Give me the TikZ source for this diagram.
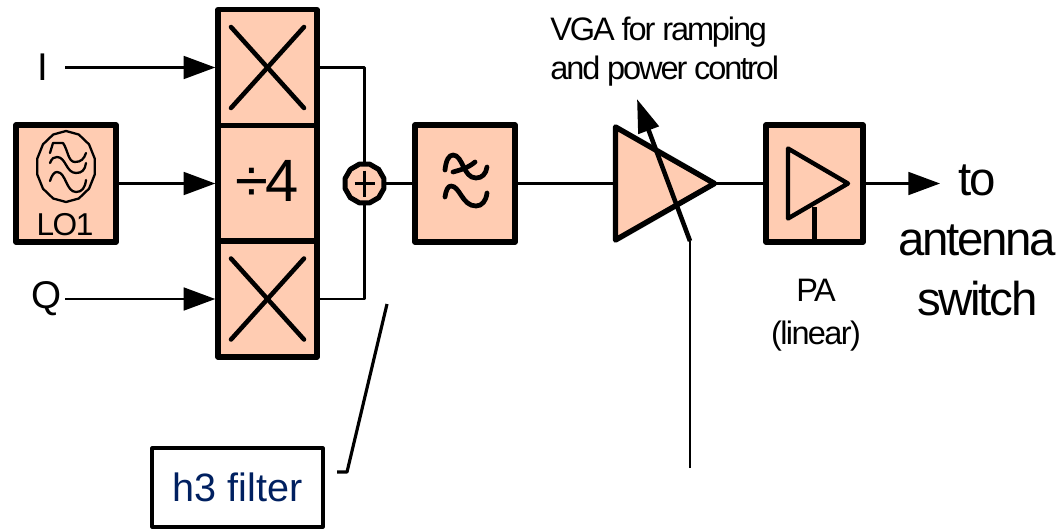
\documentclass[tikz,border=0pt]{standalone}
\usepackage{fontspec}
\setmainfont{Liberation Sans}
\newfontfamily\tightFont[LetterSpace=-5]{Liberation Sans}
\newfontfamily\tighterFont[LetterSpace=-6.5]{Liberation Sans}
\usetikzlibrary{arrows.meta,positioning,shapes.geometric}
\definecolor{blockFill}{RGB}{255, 204, 178}
\definecolor{h3Col}{RGB}{0, 32, 96}

\begin{document}
\begin{tikzpicture}[
    x=0.02cm,
    y=-0.02cm,
    line join=round,
    % Block Style
    blockNode/.style={
        rectangle,
        draw=black,
        fill=blockFill,
        line width=3.1pt,
        inner sep=0pt,
        minimum width=2cm,
        minimum height=2.34cm
    },
    % Mixer Block Style
    mixNode/.style={
        blockNode,
        minimum width=1.98cm,
        minimum height=2.32cm
    },
    % Amplifier Triangle Style
    ampNode/.style={
        isosceles triangle,
        isosceles triangle stretches,
        shape border rotate=0,
        anchor=lower side,
        inner sep=0pt,
        outer sep=0pt,
        draw=black
    },
    % Text Styles
    smallLabel/.style={
        align=center,
        inner sep=0pt,
        font=\tightFont\fontsize{18.5pt}{24.4pt}\selectfont
    },
    bigLabel/.style={
        align=center,
        inner sep=0pt,
        font=\tightFont\fontsize{27pt}{34pt}\selectfont
    },
    inputLabel/.style={
        anchor=east,
        inner ysep=0pt,
        font=\fontsize{22pt}{26pt}\selectfont
    },
    % Signal Line Styles
    sigLine/.style={
        line width=1.3pt
    },
    sigArrow/.style={
        sigLine,
        -{Triangle[length=18pt,width=13pt]}
    },
    crossLine/.style={
        line width=2.6pt,
        line cap=round
    },
    waveLine/.style={
        line width=2.7pt,
        line cap=round
    },
    oscLine/.style={
        line width=1.3pt,
        line cap=round
    }
]

    \useasboundingbox (0,0) rectangle (1060,528);

    % Mixer and Divider Stack
    \node[mixNode] (mixI) at (267.5,67.5) {};
    \node[mixNode, font=\tightFont\fontsize{34pt}{38pt}\selectfont] (divFour) at (267.5,183.5) {\raisebox{2.8pt}{÷4}};
    \node[mixNode] (mixQ) at (267.5,299) {};

    \foreach \m in {mixI,mixQ} {
        \draw[crossLine] (\m.center) +(-36.5,-40.5) -- +(36.5,40.5);
        \draw[crossLine] (\m.center) +(-36.5,40.5) -- +(36.5,-40.5);
    }

    % Oscillator Block
    \node[blockNode] (loBox) at (66,183.5) {};
    \node[smallLabel, font=\tightFont\fontsize{18pt}{20pt}\selectfont] (loLabel) at (65,225) {LO1};
    \draw[oscLine] plot[samples=15, domain=90:450] ({66+29.5*cos(\x)},{166.5+35.5*sin(\x)}) -- cycle;
    \draw[oscLine] (50,153) -- (53,143) -- (63,143) .. controls (68,150) and (68,162) .. (75,162) .. controls (81,162) and (84,159) .. (86,153);
    \draw[oscLine] (50,163) .. controls (52,158) and (54,157) .. (57,157) .. controls (66,157) and (66,173) .. (76,173) .. controls (82,173) and (85,170) .. (86,163);
    \draw[oscLine] (50,181) .. controls (52,175) and (54,172) .. (57,172) .. controls (66,172) and (66,192) .. (76,192) .. controls (82,192) and (85,188) .. (86,180);

    % Input Labels
    \node[inputLabel, inner xsep=16pt*0.567] (labelI) at (65,67.5) {I};
    \node[inputLabel, inner xsep=2pt] (labelQ) at (65,299) {Q};

    % Summing Node
    \node[regular polygon, regular polygon sides=12, draw=black, fill=blockFill, line width=2.9pt, inner sep=0pt, minimum size=0.8cm] (sum) at (364.5,183.5) {};
    \draw[line width=1.7pt] (sum.center) +(-10,0) -- +(10,0);
    \draw[line width=1.7pt] (sum.center) +(0,-13) -- +(0,13);

    % Low Pass Filter Block
    \node[blockNode] (filt) at (465,183.5) {};
    \draw[waveLine] (445,170) .. controls (446,160) and (449,155) .. (453,155) .. controls (463,155) and (463,178) .. (476,178) .. controls (482,178) and (486,174) .. (487,167);
    \draw[waveLine] (453,172) .. controls (460,170) and (468,168) .. (475,162);
    \draw[waveLine] (445,197) .. controls (446,190) and (448,186) .. (451,186) .. controls (460,186) and (462,206) .. (476,206) .. controls (482,206) and (486,201) .. (487,193);

    % Variable Gain Amplifier
    \node[ampNode, fill=blockFill, line width=3.1pt, minimum width=2.26cm, minimum height=1.98cm] (vga) at (615.5,183.5) {};

    % Power Amplifier Block
    \node[blockNode, minimum width=1.94cm] (paBox) at (814.5,183.5) {};
    \node[ampNode, line width=2.5pt, minimum width=1.4cm, minimum height=1.2cm] (paAmp) at (788,183.5) {};
    \draw[line width=2.4pt] (paBox.south) -- ++(0,-38);

    % Free Ends of Connectors
    \coordinate (outEnd) at (940,183.5);
    \coordinate (ctlBottom) at (690,468);
    \coordinate (ctlKnee) at (690,241);
    \coordinate (ctlTip) at (637,99);
    \coordinate (leaderTop) at (387,304);
    \coordinate (leaderKnee) at (347,472);
    \coordinate (leaderEnd) at (337,472);

    % Signal Path
    \draw[sigArrow] (labelI.east) -- (mixI.west);
    \draw[sigArrow] (loBox.east) -- (divFour.west);
    \draw[sigArrow] (labelQ.east) -- (mixQ.west);
    \draw[sigLine] (mixI.east) -| (sum.north);
    \draw[sigLine] (mixQ.east) -| (sum.south);
    \draw[sigLine] (sum.east) -- (filt.west);
    \draw[sigLine] (filt.east) -- (vga.lower side);
    \draw[sigLine] (vga.apex) -- (paBox.west);
    \draw[sigArrow] (paBox.east) -- (outEnd);

    % Gain Control
    \draw[sigLine] (ctlBottom) -- (ctlKnee);
    \draw[line width=2.6pt, -{Triangle[length=19pt,width=12pt]}] (ctlKnee) -- (ctlTip);

    % Text Labels
    \node[smallLabel, align=left, anchor=north west, font=\tighterFont\fontsize{18.5pt}{22.1pt}\selectfont] (vgaLabel) at (550,17) {VGA for ramping\\and power control};
    \node[smallLabel] (paLabel) at (816,315) {PA\\(linear)};
    \node[bigLabel] (outLabel) at (977.5,240.5) {to\\antenna\\switch};

    % H3 Filter Callout
    \node[rectangle, draw=black, line width=1.8pt, minimum width=3.42cm, minimum height=1.58cm, inner sep=0pt, text=h3Col, font=\fontsize{22.5pt}{26pt}\selectfont] (h3Box) at (237.5,487.5) {h3 filter};
    \draw[line width=1.8pt] (leaderTop) -- (leaderKnee) -- (leaderEnd);

\end{tikzpicture}
\end{document}
